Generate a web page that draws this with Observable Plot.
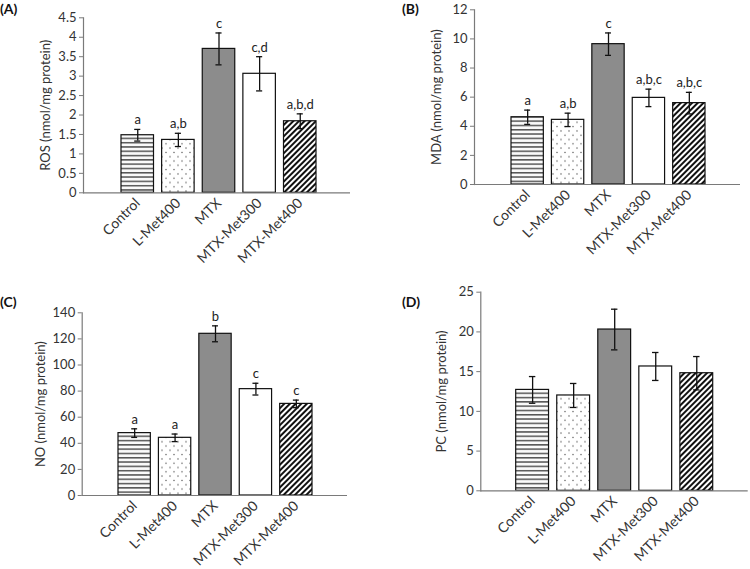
<!DOCTYPE html>
<html>
<head>
<meta charset="utf-8">
<script src="https://cdn.jsdelivr.net/npm/d3@7"></script>
<script src="https://cdn.jsdelivr.net/npm/@observablehq/plot@0.6"></script>
<style>
  html, body { margin: 0; padding: 0; background: #fff; }
  #root { position: relative; width: 750px; height: 569px; overflow: hidden; font-family: Lato, sans-serif; }
  .panel { position: absolute; }
  .plab { position: absolute; font-family: Lato, sans-serif; font-weight: bold; font-size: 14px; line-height: 16px; color: #111; }
</style>
</head>
<body>
<svg width="0" height="0" style="position:absolute">
  <defs>
    <pattern id="pat-h" patternUnits="userSpaceOnUse" width="8" height="4.3">
      <rect width="8" height="4.3" fill="#fafafa"></rect>
      <rect y="0" width="8" height="1.5" fill="#555"></rect>
    </pattern>
    <pattern id="pat-dot" patternUnits="userSpaceOnUse" width="8" height="8.6">
      <rect width="8" height="8.6" fill="#fff"></rect>
      <circle cx="2" cy="2" r="0.7" fill="#444"></circle>
      <circle cx="6" cy="6.3" r="0.7" fill="#444"></circle>
    </pattern>
    <pattern id="pat-diag" patternUnits="userSpaceOnUse" width="4" height="4" patternTransform="rotate(45)">
      <rect width="4" height="4" fill="#fff"></rect>
      <rect x="0" width="2" height="4" fill="#111"></rect>
    </pattern>
  </defs>
</svg>
<div id="root"></div>
<script>
// ---- data ----
const groups = ["Control", "L-Met400", "MTX", "MTX-Met300", "MTX-Met400"];
const groupFills = ["url(#pat-h)", "url(#pat-dot)", "#8c8c8c", "#ffffff", "url(#pat-diag)"];

const rosMean = [1.48, 1.36, 3.70, 3.06, 1.84];
const rosErr = [0.15, 0.17, 0.41, 0.44, 0.19];
const rosLetters = ["a", "a,b", "c", "c,d", "a,b,d"];
const rosTicks = [0, 0.5, 1, 1.5, 2, 2.5, 3, 3.5, 4, 4.5];

const mdaMean = [4.62, 4.44, 9.64, 5.95, 5.59];
const mdaErr = [0.49, 0.46, 0.77, 0.60, 0.74];
const mdaLetters = ["a", "a,b", "c", "a,b,c", "a,b,c"];
const mdaTicks = [0, 2, 4, 6, 8, 10, 12];

const noMean = [47.8, 44.2, 123.9, 81.5, 70.2];
const noErr = [3.3, 2.9, 6.1, 4.5, 2.9];
const noLetters = ["a", "a", "b", "c", "c"];
const noTicks = [0, 20, 40, 60, 80, 100, 120, 140];

const pcMean = [12.7, 12.0, 20.3, 15.65, 14.8];
const pcErr = [1.68, 1.51, 2.56, 1.76, 2.10];
const pcLetters = ["", "", "", "", ""];
const pcTicks = [0, 5, 10, 15, 20, 25];

const panels = [
  {id: "(A)", mean: rosMean, err: rosErr, letters: rosLetters, ticks: rosTicks, label: "ROS (nmol/mg protein)",
   left: 0, top: 0, height: 285, mL: 83, mR: 25, mT: 17.3, mB: 92.7, xr: [121, 316], lo: 42.5, labX: 0, labY: 1},
  {id: "(B)", mean: mdaMean, err: mdaErr, letters: mdaLetters, ticks: mdaTicks, label: "MDA (nmol/mg protein)",
   left: 375, top: 0, height: 285, mL: 99, mR: 10, mT: 9.3, mB: 101, xr: [136, 330], lo: 42.5, labX: 402, labY: 1},
  {id: "(C)", mean: noMean, err: noErr, letters: noLetters, ticks: noTicks, label: "NO (nmol/mg protein)",
   left: 0, top: 285, height: 284, mL: 81.7, mR: 28, mT: 27.3, mB: 74, xr: [118, 312], lo: 46, labX: 0, labY: 294},
  {id: "(D)", mean: pcMean, err: pcErr, letters: pcLetters, ticks: pcTicks, label: "PC (nmol/mg protein)",
   left: 375, top: 285, height: 284, mL: 105.3, mR: 2.3, mT: 6.7, mB: 78.7, xr: [140.7, 337.7], lo: 44, labX: 402, labY: 294}
];

const root = document.getElementById("root");

for (const p of panels) {
  const data = groups.map((g, i) => ({g, m: p.mean[i], e: p.err[i], t: p.letters[i]}));
  const chart = Plot.plot({
    width: 375,
    height: p.height,
    marginLeft: p.mL, marginRight: p.mR, marginTop: p.mT, marginBottom: p.mB,
    style: {fontFamily: "Lato, sans-serif", fontSize: "13px", color: "#333", background: "transparent", overflow: "visible"},
    x: {domain: groups, range: p.xr, paddingInner: 0.2, paddingOuter: 0, round: false, label: null},
    y: {domain: [0, p.ticks[p.ticks.length - 1]], label: null},
    color: {type: "ordinal", domain: groups, range: groupFills},
    marks: [
      Plot.barY(data, {x: "g", y: "m", fill: "g", stroke: "#111", strokeWidth: 1.2}),
      Plot.ruleX(data, {x: "g", y1: d => d.m - d.e, y2: d => d.m + d.e, stroke: "#111", strokeWidth: 1.3}),
      Plot.tickY(data, {x: "g", y: d => d.m + d.e, insetLeft: 13.2, insetRight: 13.2, stroke: "#111", strokeWidth: 1.3}),
      Plot.tickY(data, {x: "g", y: d => d.m - d.e, insetLeft: 13.2, insetRight: 13.2, stroke: "#111", strokeWidth: 1.3}),
      Plot.text(data, {x: "g", y: d => d.m + d.e, text: "t", dy: -5, lineAnchor: "bottom", fontSize: 13, fill: "#222"}),
      Plot.ruleY([0], {stroke: "#7a7a7a", strokeWidth: 1.2}),
      Plot.frame({anchor: "left", stroke: "#7a7a7a", strokeWidth: 1.2}),
      Plot.axisY({ticks: p.ticks, tickFormat: d => String(d), tickSize: 4, tickPadding: 3, stroke: "#7a7a7a",
                  label: p.label, labelArrow: "none", labelAnchor: "center", labelOffset: p.lo, fontSize: 13}),
      Plot.axisX({tickRotate: -45, tickSize: 0, tickPadding: 8, label: null, fontSize: 14})
    ]
  });
  chart.classList.add("panel");
  chart.style.left = p.left + "px";
  chart.style.top = p.top + "px";
  root.appendChild(chart);

  const lab = document.createElement("div");
  lab.className = "plab";
  lab.textContent = p.id;
  lab.style.left = p.labX + "px";
  lab.style.top = p.labY + "px";
  root.appendChild(lab);
}
</script>
</body>
</html>
